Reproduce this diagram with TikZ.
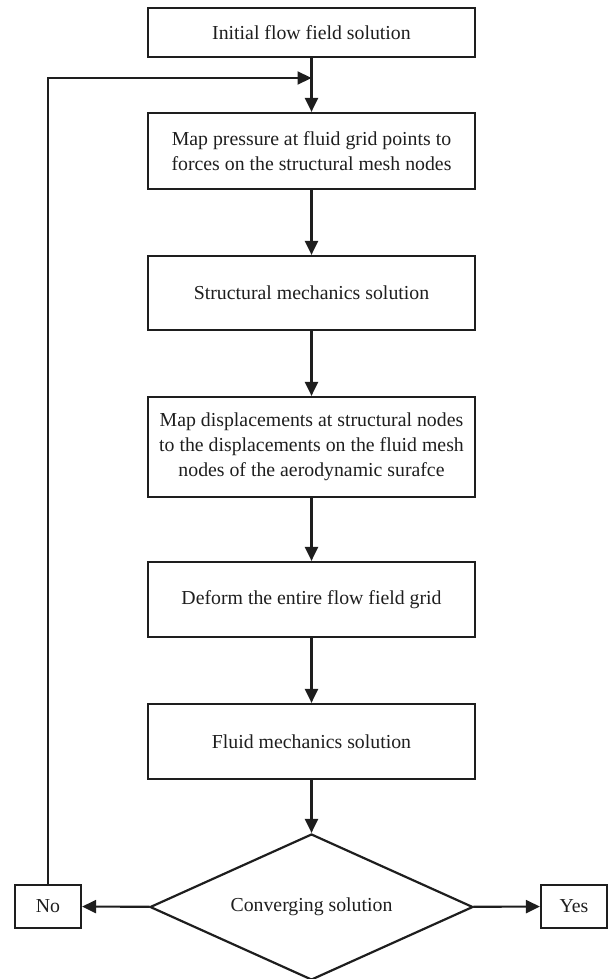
\documentclass[tikz,border=0pt]{standalone}
\usepackage{fontspec}
\setmainfont{Liberation Serif}
\usetikzlibrary{arrows.meta,shapes.geometric}
\definecolor{ink}{HTML}{1E1E1E}
\begin{document}
\begin{tikzpicture}[x=1pt,y=-1pt,
  every node/.style={font=\fontsize{19.8pt}{25pt}\selectfont, text=ink},
  procbox/.style={draw=ink, line width=2.2pt, minimum width=327pt, inner sep=0pt, align=center},
  smallbox/.style={draw=ink, line width=2.2pt, minimum width=66pt, minimum height=43pt, inner sep=0pt},
  decision/.style={draw=ink, line width=2.2pt, diamond, shape aspect=2.2, minimum width=323pt, minimum height=146pt, inner sep=0pt},
  flow/.style={draw=ink, line width=2.2pt, -{Triangle[length=14pt,width=13pt]}}]
\useasboundingbox (0,0) rectangle (610,979);
\node[procbox, minimum height=49pt] (b1) at (311.5,32.5) {Initial flow field solution};
\node[procbox, minimum height=76pt] (b2) at (311.5,151) {Map pressure at fluid grid points to\\forces on the structural mesh nodes};
\node[procbox, minimum height=74pt] (b3) at (311.5,293) {Structural mechanics solution};
\node[procbox, minimum height=100pt] (b4) at (311.5,447) {Map displacements at structural nodes\\to the displacements on the fluid mesh\\nodes of the aerodynamic surafce};
\node[procbox, minimum height=75pt] (b5) at (311.5,599.5) {Deform the entire flow field grid};
\node[procbox, minimum height=75pt] (b6) at (311.5,741.5) {Fluid mechanics solution};
\node[decision] (dec) at (311.5,907) {Converging solution};
\node[smallbox] (no) at (48,906.5) {No};
\node[smallbox] (yes) at (574,906.5) {Yes};
\coordinate (join) at (311.5,78);
\draw[flow] (b1) -- (b2);
\draw[flow] (b2) -- (b3);
\draw[flow] (b3) -- (b4);
\draw[flow] (b4) -- (b5);
\draw[flow] (b5) -- (b6);
\draw[flow] (b6) -- (dec);
\draw[flow] (dec) -- (no);
\draw[flow] (dec) -- (yes);
\draw[flow] (no.north) |- (join);
\end{tikzpicture}
\end{document}
